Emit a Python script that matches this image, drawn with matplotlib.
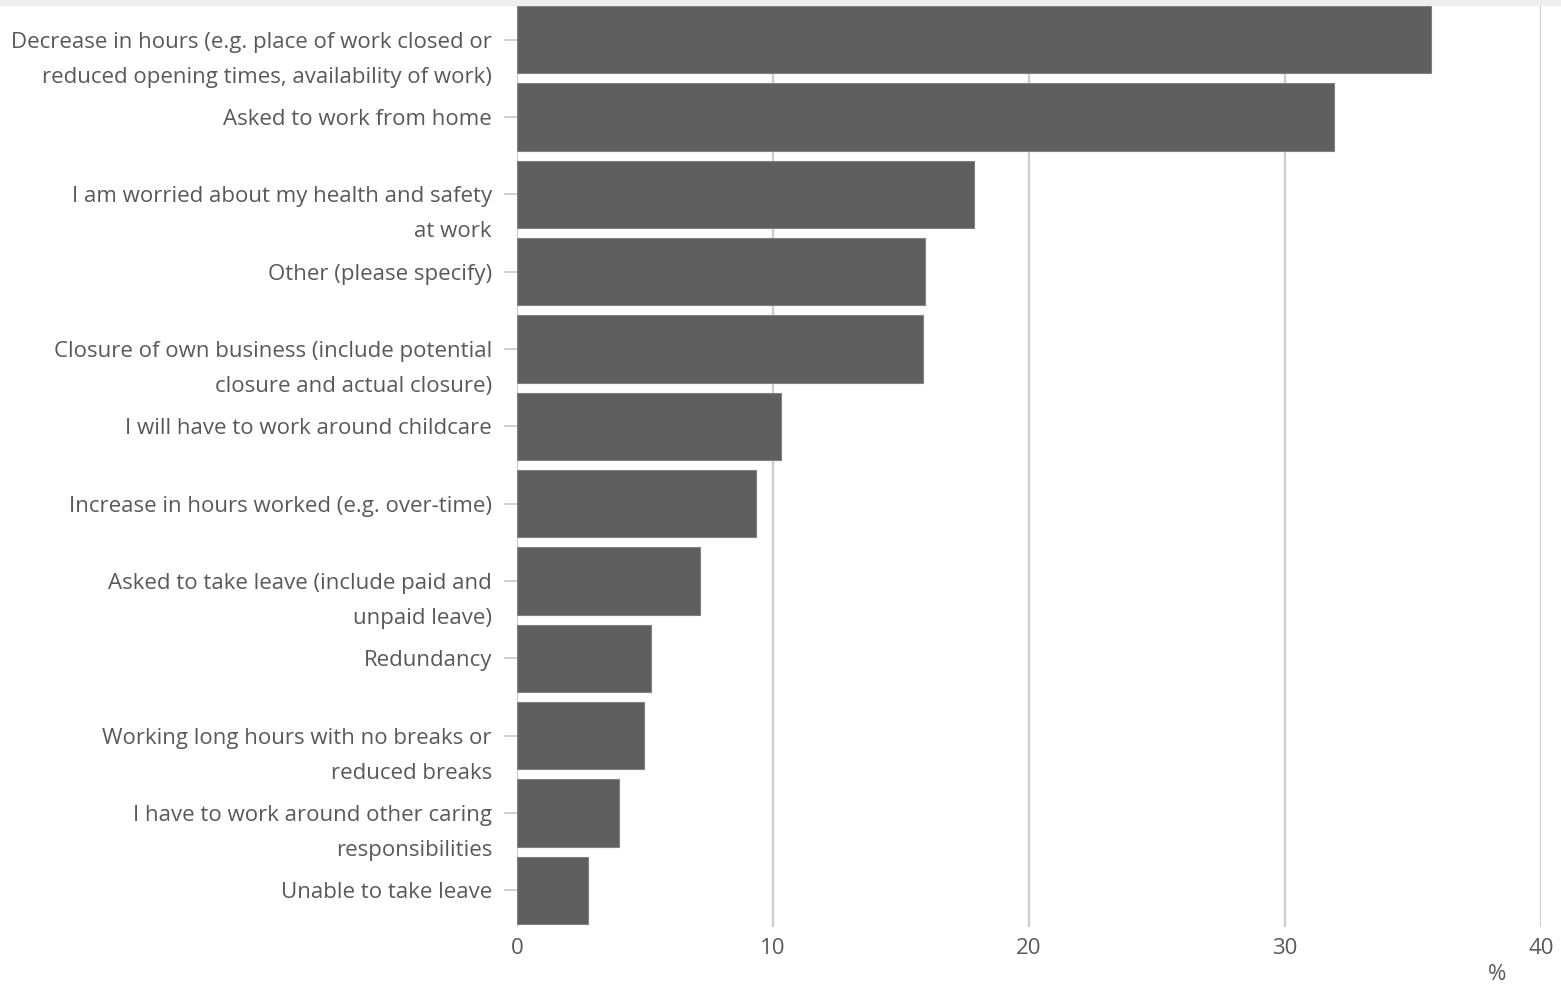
import matplotlib.pyplot as plt
from matplotlib.patches import Rectangle
from matplotlib.transforms import ScaledTranslation

# Razones / categorías (de arriba hacia abajo)
categorias = [
    'Decrease in hours (e.g. place of work closed or\nreduced opening times, availability of work)',
    'Asked to work from home',
    'I am worried about my health and safety\nat work',
    'Other (please specify)',
    'Closure of own business (include potential\nclosure and actual closure)',
    'I will have to work around childcare',
    'Increase in hours worked (e.g. over-time)',
    'Asked to take leave (include paid and\nunpaid leave)',
    'Redundancy',
    'Working long hours with no breaks or\nreduced breaks',
    'I have to work around other caring\nresponsibilities',
    'Unable to take leave',
]
porcentajes = [35.7, 31.9, 17.85, 15.95, 15.85, 10.3, 9.35, 7.15, 5.25, 4.95, 3.98, 2.78]
ticks_x = [0, 10, 20, 30, 40]

plt.rcParams['font.family'] = ['Open Sans', 'DejaVu Sans']
tam = 16
color_texto = '#595959'

fig = plt.figure(figsize=(15.61, 9.89), dpi=100)
ax = fig.add_axes([517 / 1561, 1 - 927 / 989, 1024 / 1561, 921 / 989])

alto = 0.87
y = list(range(len(categorias)))
ax.barh(y, porcentajes, height=alto, color='#5f5f5f', edgecolor='#808080', linewidth=0.8, zorder=3)

ax.set_xlim(0, 40)
ax.set_ylim(len(categorias) - 1 + alto / 2 + 0.04, -alto / 2)
ax.set_xticks(ticks_x)
ax.set_xticklabels([str(t) for t in ticks_x])
ax.set_yticks(y)
ax.set_yticklabels([])

ax.grid(axis='x', color='#cccccc', linewidth=1.6, zorder=0)
ax.grid(axis='y', visible=False)
for s in ['top', 'right', 'bottom', 'left']:
    ax.spines[s].set_visible(False)

ax.tick_params(axis='y', length=9.5, width=1.1, color='#c4c4c4')
ax.tick_params(axis='x', length=0, pad=8, labelsize=tam, labelcolor=color_texto)

# etiquetas: primera línea a la altura de la barra, la segunda debajo
trans_y = ax.get_yaxis_transform()
for i, etiqueta in enumerate(categorias):
    for k, linea in enumerate(etiqueta.split('\n')):
        off = ScaledTranslation(-0.25, -0.35 * k, fig.dpi_scale_trans)
        ax.text(0, i, linea, transform=trans_y + off, ha='right', va='center_baseline',
                fontsize=tam, color=color_texto)

fig.text(1497 / 1561, 1 - 975 / 989, '%', ha='center', va='center', fontsize=tam, color=color_texto)

# franja gris superior
fig.patches.append(Rectangle((0, 1 - 6 / 989), 1, 6 / 989, transform=fig.transFigure,
                             facecolor='#efefef', edgecolor='none', zorder=0))

fig.savefig('out.png', dpi=100)
